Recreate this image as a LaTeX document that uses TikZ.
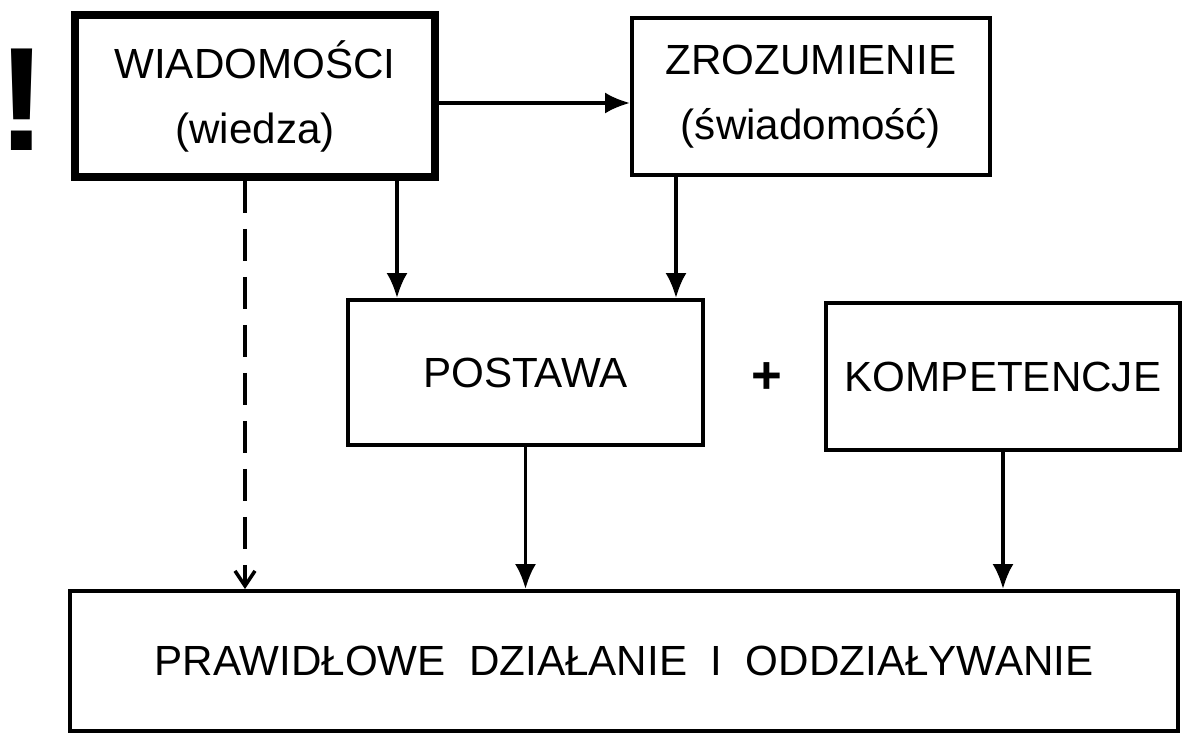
\documentclass[tikz,border=0pt]{standalone}
\usepackage{fontspec}
\setmainfont{Liberation Sans}
\usepackage{tikz}
\usetikzlibrary{arrows.meta}
\tikzset{arrow/.style = {> = {Latex[length = 5mm, width = 4.2mm]}, line width = 2pt}}
\tikzset{box/.style = {draw, line width = 2.2pt, align = center, font = \fontsize{24}{37}\selectfont}}
\usetikzlibrary{positioning}
\usetikzlibrary{calc}

\begin{document}
\begin{tikzpicture}
	\useasboundingbox (0, 0) rectangle (23.70, -14.66);

	%% Level 0
	\node[box, line width = 4.5pt, minimum width = 7.2cm, minimum height = 3.24cm] (wiad) at (5.10, -1.92) {WIADOMOŚCI\\(wiedza)};
	\node[box, minimum width = 7.16cm, minimum height = 3.14cm] (zroz) at (16.22, -1.93) {ZROZUMIENIE\\(świadomość)};
	\node[font = \fontsize{84}{84}\selectfont\bfseries] (excl) at (0.44, -2.0) {!};

	%% Level 1
	\node[box, minimum width = 7.1cm, minimum height = 2.9cm] (postawa) at (10.51, -7.45) {POSTAWA};
	\node[box, minimum width = 7.08cm, minimum height = 2.94cm] (komp) at (20.06, -7.53) {KOMPETENCJE};
	\node[font = \fontsize{30}{30}\selectfont\bfseries] (plus) at (15.34, -7.56) {+};

	%% Level 2
	\node[box, minimum width = 22.16cm, minimum height = 2.8cm] (result) at (12.48, -13.22) {PRAWIDŁOWE\ \ DZIAŁANIE\ \ I\ \ ODDZIAŁYWANIE};

	%% Arrows
	\draw[arrow, ->] ([yshift = -0.14cm]wiad.east) -- ([yshift = -0.14cm]wiad.east -| zroz.west);
	\draw[arrow, ->] ([xshift = 2.84cm]wiad.south) -- ([xshift = 2.84cm]wiad.south |- postawa.north);
	\draw[arrow, ->] ([xshift = 3.01cm]postawa.north |- zroz.south) -- ([xshift = 3.01cm]postawa.north);
	\draw[line width = 2pt, dash pattern = on 0.64cm off 0.32cm, -{Straight Barb[length = 3mm, width = 4mm]}]
		([xshift = -0.2cm]wiad.south) -- ([xshift = -0.2cm]wiad.south |- result.north);
	\draw[arrow, ->] (postawa.south) -- (postawa.south |- result.north);
	\draw[arrow, ->] (komp.south) -- (komp.south |- result.north);

\end{tikzpicture}
\end{document}
